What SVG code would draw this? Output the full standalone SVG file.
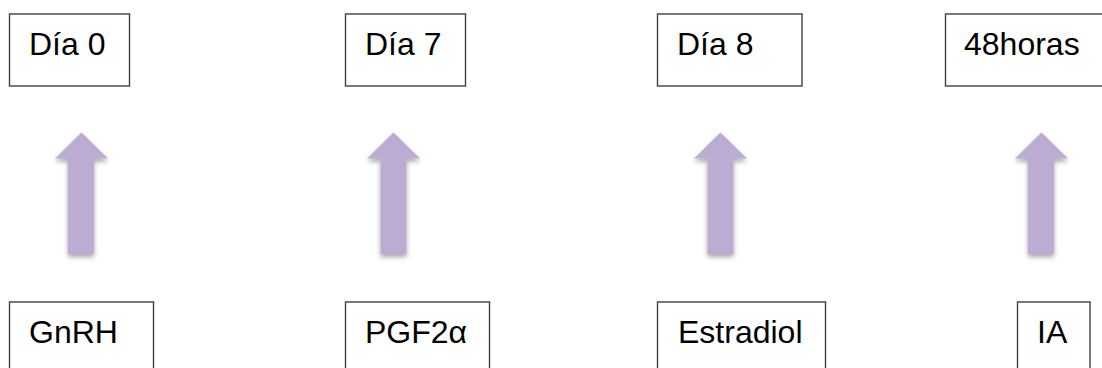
<svg xmlns="http://www.w3.org/2000/svg" width="1102" height="368" viewBox="0 0 1102 368">
<style>
.box{fill:#fff;stroke:#404040;stroke-width:1.4}
.lbl{font-family:"Liberation Sans",Arial,sans-serif;font-size:32px;fill:#000}
.arr{fill:#bcacd3}
</style>
<defs>
<filter id="sh" x="-30%" y="-10%" width="160%" height="130%">
<feDropShadow dx="0" dy="3" stdDeviation="2.5" flood-color="#000" flood-opacity="0.35"/>
</filter>
</defs>
<rect width="1102" height="368" fill="#fff"/>
<g id="dia0"><rect class="box" x="9.5" y="14" width="120" height="72"/><text class="lbl" x="29" y="54.5">Día 0</text></g>
<g id="dia7"><rect class="box" x="345.5" y="14" width="120" height="72"/><text class="lbl" x="365" y="54.5">Día 7</text></g>
<g id="dia8"><rect class="box" x="657.5" y="14" width="144.5" height="72"/><text class="lbl" x="677" y="54.5">Día 8</text></g>
<g id="h48"><rect class="box" x="945.5" y="14" width="160" height="72"/><text class="lbl" x="964" y="54.5">48horas</text></g>
<g id="gnrh"><rect class="box" x="9.5" y="302" width="144" height="80"/><text class="lbl" x="29" y="342.5">GnRH</text></g>
<g id="pgf"><rect class="box" x="345.5" y="302" width="144" height="80"/><text class="lbl" x="365" y="342.5">PGF2α</text></g>
<g id="estradiol"><rect class="box" x="657.5" y="302" width="168" height="80"/><text class="lbl" x="678" y="342.5">Estradiol</text></g>
<g id="ia"><rect class="box" x="1017.5" y="302" width="72.5" height="80"/><text class="lbl" x="1037" y="342.5">IA</text></g>
<g id="connectors" filter="url(#sh)">
<path class="arr" d="M81.5,132.5 L108,158.5 L94,158.5 L94,254 L68,254 L68,158.5 L55,158.5 Z"/>
<path class="arr" d="M393.5,132.5 L420,158.5 L406.5,158.5 L406.5,254 L380.5,254 L380.5,158.5 L367,158.5 Z"/>
<path class="arr" d="M720.5,132.5 L747,158.5 L733.5,158.5 L733.5,254 L707.5,254 L707.5,158.5 L694,158.5 Z"/>
<path class="arr" d="M1041.5,132.5 L1068,158.5 L1054,158.5 L1054,254 L1028,254 L1028,158.5 L1015,158.5 Z"/>
</g>
</svg>
